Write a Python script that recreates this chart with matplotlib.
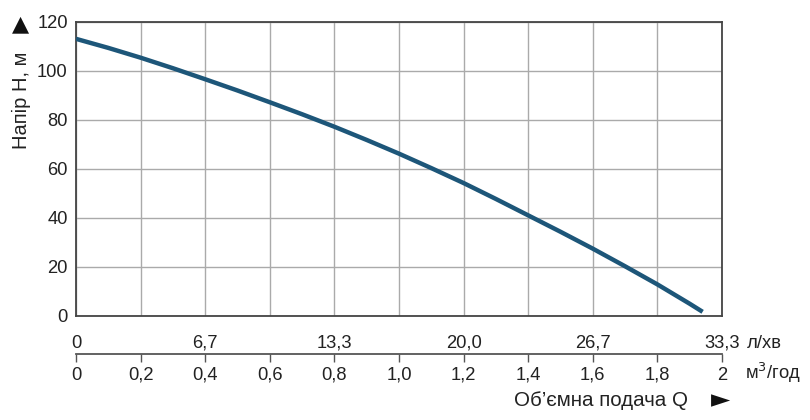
import matplotlib
matplotlib.use("Agg")
import matplotlib.pyplot as plt

plt.rcParams['font.family'] = ['Liberation Sans', 'DejaVu Sans']

# Data
flow_m3h = [0, 0.1, 0.2, 0.3, 0.4, 0.5, 0.6, 0.7, 0.8, 0.9, 1.0,
            1.1, 1.2, 1.3, 1.4, 1.5, 1.6, 1.7, 1.8, 1.9, 1.94]
head_m = [113.0, 109.3, 105.3, 101.0, 96.5, 91.9, 87.1, 82.2, 77.1, 71.7, 66.1,
          60.2, 54.1, 47.6, 40.9, 34.2, 27.3, 20.1, 12.7, 4.8, 1.5]
m3h_ticks = [0, 0.2, 0.4, 0.6, 0.8, 1.0, 1.2, 1.4, 1.6, 1.8, 2.0]
m3h_labels = ['0', '0,2', '0,4', '0,6', '0,8', '1,0', '1,2', '1,4', '1,6', '1,8', '2']
lpm_pos = [0, 0.4, 0.8, 1.2, 1.6, 2.0]
lpm_labels = ['0', '6,7', '13,3', '20,0', '26,7', '33,3']
h_ticks = [0, 20, 40, 60, 80, 100, 120]

fs = 13.2
fig = plt.figure(figsize=(8.1, 4.2), dpi=100)
L, R = 76 / 810, 722 / 810
top_y, bot_y = 21.7 / 420, 315.5 / 420
ax = fig.add_axes([L, 1 - bot_y, R - L, bot_y - top_y])

line_col = '#1d5679'
ax.plot(flow_m3h, head_m, color=line_col, lw=3.2, solid_capstyle='butt',
        solid_joinstyle='round', zorder=3)
ax.set_xlim(0, 2)
ax.set_ylim(0, 120)
ax.set_xticks(m3h_ticks)
ax.set_yticks(h_ticks)
ax.grid(True, color='#aaaaaa', lw=1.0)
ax.set_axisbelow(True)
ax.tick_params(axis='x', length=0, labelbottom=False)
ax.tick_params(axis='y', length=0, labelsize=fs, pad=6, labelcolor='#222222')
for s in ax.spines.values():
    s.set_color('#444444')
    s.set_linewidth(1.3)

# secondary scale line
sec_y = 1 - 354 / 420
ax2 = fig.add_axes([L, sec_y, R - L, 0.0001])
ax2.set_xlim(0, 2)
ax2.set_ylim(0, 1)
for k in ['top', 'left', 'right']:
    ax2.spines[k].set_visible(False)
ax2.spines['bottom'].set_color('#555555')
ax2.spines['bottom'].set_linewidth(1.3)
ax2.set_yticks([])
ax2.set_xticks(m3h_ticks)
ax2.set_xticklabels(m3h_labels)
ax2.tick_params(axis='x', direction='out', length=6, width=1.0, color='#555555',
                labelsize=fs, pad=3, labelcolor='#222222')
ax2.patch.set_visible(False)
for p, t in zip(lpm_pos, lpm_labels):
    ax2.annotate(t, xy=(p, 0), xycoords='data', xytext=(0, 1.5), textcoords='offset points',
                 ha='center', va='bottom', fontsize=fs, color='#222222')

# unit labels and axis titles
fig.text(747 / 810, 1 - 343 / 420, 'л/хв', fontsize=fs, ha='left', va='center', color='#222222')
fig.text(745 / 810, 1 - 373 / 420, 'м$^3$/год', fontsize=fs, ha='left', va='center', color='#222222')
fig.text(688 / 810, 1 - 401 / 420, 'Об’ємна подача Q', fontsize=14.8, ha='right', va='center',
         color='#222222')
fig.text(721 / 810, 1 - 400 / 420, '►', fontsize=18, ha='center', va='center', color='#111111',
         family=['DejaVu Sans'])
fig.text(21 / 810, 1 - 100 / 420, 'Напір Н, м', fontsize=14.5, rotation=90, ha='center', va='center',
         color='#222222')
fig.text(21 / 810, 1 - 24 / 420, '▲', fontsize=16, ha='center', va='center', color='#111111',
         family=['DejaVu Sans'])

fig.savefig('out.png', dpi=100)
